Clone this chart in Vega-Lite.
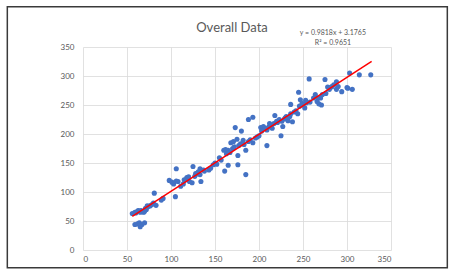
{
  "$schema": "https://vega.github.io/schema/vega-lite/v6.json",
  "width": 308,
  "height": 203,
  "autosize": {"type": "none"},
  "padding": {"left": 83, "top": 47, "right": 58, "bottom": 20},
  "background": "white",
  "config": {
    "view": {"stroke": null},
    "font": "Lato",
    "axis": {
      "domain": false,
      "ticks": false,
      "grid": true,
      "gridColor": "#D9D9D9",
      "gridWidth": 0.8,
      "labelColor": "#595959",
      "labelFont": "Lato",
      "labelFontSize": 8,
      "labelOverlap": false,
      "title": null
    }
  },
  "title": {
    "text": "Overall Data",
    "font": "Lato",
    "fontSize": 13,
    "fontWeight": "normal",
    "color": "#595959",
    "anchor": "middle",
    "frame": "group",
    "baseline": "bottom",
    "offset": -42,
    "dx": -5
  },
  "datasets": {
    "pts": [
      {"x":56,"y":63},{"x":59,"y":65},{"x":62,"y":67},{"x":65,"y":65},{"x":68,"y":66},{"x":70,"y":67},{"x":72,"y":70},{"x":74,"y":75},{"x":76,"y":76},{"x":78,"y":78},{"x":80,"y":81},{"x":81,"y":98},{"x":83,"y":77},{"x":89,"y":86},{"x":91,"y":89},{"x":59,"y":44},{"x":62,"y":45},{"x":65,"y":40},{"x":67,"y":44},{"x":70,"y":47},{"x":64,"y":47},{"x":60,"y":64},{"x":63,"y":68},{"x":66,"y":68},{"x":69,"y":65},{"x":71,"y":72},{"x":73,"y":76},
      {"x":98,"y":120},{"x":101,"y":117},{"x":103,"y":114},{"x":106,"y":119},{"x":105,"y":92},{"x":108,"y":118},{"x":111,"y":110},{"x":114,"y":114},{"x":115,"y":121},{"x":118,"y":125},{"x":121,"y":118},{"x":124,"y":116},{"x":127,"y":127},{"x":130,"y":131},{"x":134,"y":118},{"x":133,"y":130},{"x":138,"y":136},{"x":143,"y":138},{"x":106,"y":140},{"x":125,"y":144},{"x":133,"y":140},{"x":137,"y":138},{"x":117,"y":121},{"x":120,"y":126},{"x":128,"y":132},{"x":131,"y":135},
      {"x":148,"y":147},{"x":150,"y":150},{"x":155,"y":159},{"x":160,"y":172},{"x":162,"y":173},{"x":165,"y":172},{"x":163,"y":166},{"x":167,"y":168},{"x":161,"y":136},{"x":165,"y":146},{"x":168,"y":185},{"x":171,"y":187},{"x":173,"y":211},{"x":175,"y":191},{"x":176,"y":147},{"x":176,"y":163},{"x":179,"y":183},{"x":180,"y":205},{"x":182,"y":189},{"x":185,"y":172},{"x":185,"y":130},{"x":188,"y":225},{"x":193,"y":229},{"x":188,"y":187},{"x":193,"y":185},{"x":196,"y":193},{"x":200,"y":197},{"x":202,"y":211},{"x":205,"y":213},{"x":209,"y":180},{"x":209,"y":207},{"x":212,"y":218},{"x":215,"y":210},{"x":218,"y":232},{"x":221,"y":220},{"x":225,"y":197},{"x":227,"y":213},{"x":229,"y":226},{"x":231,"y":230},{"x":233,"y":223},{"x":236,"y":235},{"x":238,"y":221},{"x":240,"y":238},{"x":236,"y":251},{"x":244,"y":235},{"x":245,"y":272},{"x":247,"y":259},{"x":249,"y":253},{"x":252,"y":245},{"x":254,"y":254},{"x":264,"y":268},{"x":266,"y":256},{"x":268,"y":252},{"x":270,"y":262},{"x":271,"y":250},{"x":276,"y":270},{"x":280,"y":277},{"x":283,"y":282},{"x":288,"y":277},{"x":294,"y":273},{"x":301,"y":279},{"x":306,"y":277},{"x":257,"y":295},{"x":275,"y":294},{"x":278,"y":281},{"x":282,"y":281},{"x":288,"y":290},{"x":303,"y":305},{"x":314,"y":302},{"x":327,"y":302},{"x":300,"y":280},
      {"x":145,"y":141},{"x":152,"y":148},{"x":157,"y":155},{"x":170,"y":175},{"x":172,"y":178},{"x":177,"y":180},{"x":183,"y":182},{"x":190,"y":190},{"x":198,"y":195},{"x":203,"y":205},{"x":207,"y":210},{"x":211,"y":212},{"x":214,"y":215},{"x":217,"y":218},{"x":220,"y":222},{"x":223,"y":225},{"x":226,"y":222},{"x":230,"y":228},{"x":235,"y":230},{"x":242,"y":240},{"x":246,"y":248},{"x":250,"y":250},{"x":253,"y":258},{"x":258,"y":255},{"x":262,"y":262},{"x":267,"y":262},{"x":272,"y":268},{"x":285,"y":285},{"x":290,"y":282}
    ],
    "fit": [{"x":56,"y":58.16},{"x":328,"y":325.21}]
  },
  "layer": [
    {
      "data": {"name": "pts"},
      "mark": {"type": "point", "filled": true, "opacity": 1, "size": 26, "color": "#4472C4"},
      "encoding": {
        "x": {"field": "x", "type": "quantitative", "scale": {"domain": [0, 350], "nice": false, "zero": false}, "axis": {"values": [0,50,100,150,200,250,300,350], "labelPadding": 5}},
        "y": {"field": "y", "type": "quantitative", "scale": {"domain": [0, 350], "nice": false, "zero": false}, "axis": {"values": [0,50,100,150,200,250,300,350], "labelPadding": 9}}
      }
    },
    {
      "data": {"name": "fit"},
      "mark": {"type": "line", "color": "#FF0000", "strokeWidth": 1.5},
      "encoding": {
        "x": {"field": "x", "type": "quantitative", "axis": {"values": [0,50,100,150,200,250,300,350], "labelPadding": 5}},
        "y": {"field": "y", "type": "quantitative", "axis": {"values": [0,50,100,150,200,250,300,350], "labelPadding": 9}}
      }
    },
    {
      "data": {"values": [{}]},
      "mark": {"type": "text", "font": "Lato", "fontSize": 7, "color": "#595959", "lineHeight": 10, "baseline": "middle", "align": "center", "clip": false},
      "encoding": {
        "x": {"datum": 284, "type": "quantitative", "axis": {"values": [0,50,100,150,200,250,300,350], "labelPadding": 5}},
        "y": {"datum": 374.5, "type": "quantitative", "axis": {"values": [0,50,100,150,200,250,300,350], "labelPadding": 9}},
        "text": {"value": ["y = 0.9818x + 3.1765", "R² = 0.9651"]}
      }
    },
    {
      "mark": {"type": "rect", "fill": null, "stroke": "#3a3a3a", "strokeWidth": 1.5, "clip": false},
      "data": {"values": [{}]},
      "encoding": {
        "x": {"datum": -86, "type": "quantitative", "axis": {"values": [0,50,100,150,200,250,300,350], "labelPadding": 5}},
        "x2": {"datum": 414},
        "y": {"datum": -30.5, "type": "quantitative", "axis": {"values": [0,50,100,150,200,250,300,350], "labelPadding": 9}},
        "y2": {"datum": 419.5}
      }
    }
  ]
}
